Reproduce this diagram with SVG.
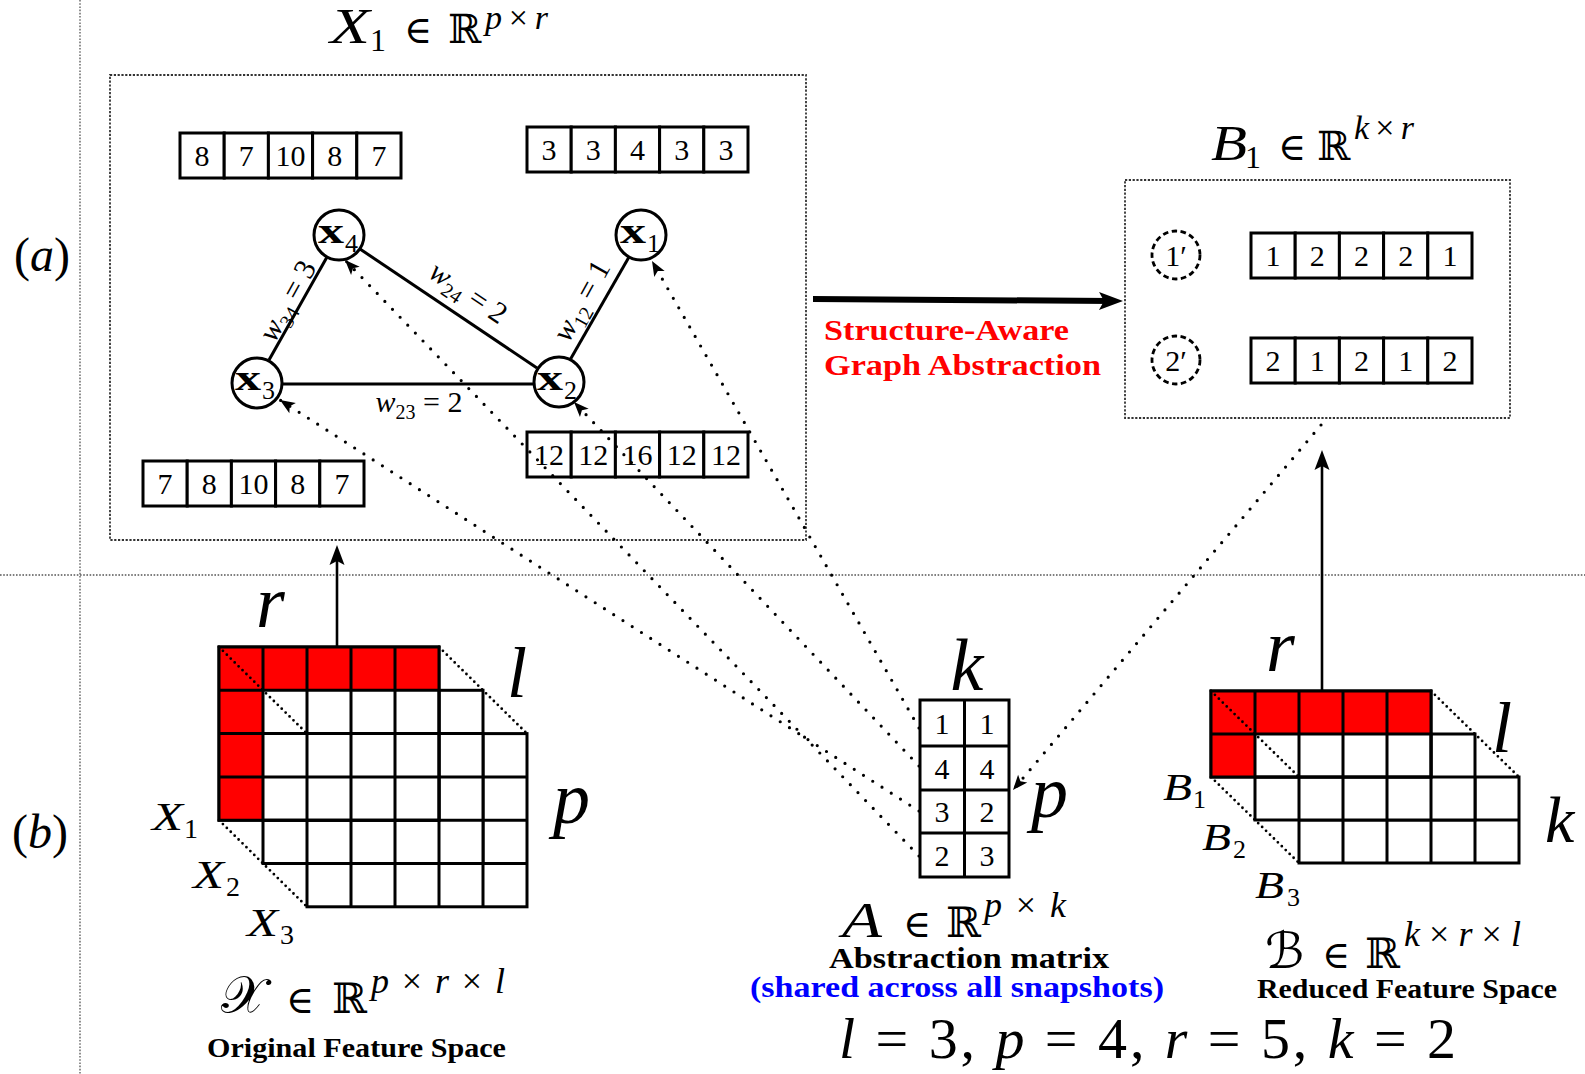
<svg xmlns="http://www.w3.org/2000/svg" width="1585" height="1074" viewBox="0 0 1585 1074">
  <defs>
    <style>
      .sep { fill: none; stroke: #555; stroke-width: 1.3; stroke-dasharray: 1.6 1.6; }
      .frame { fill: none; stroke: #333; stroke-width: 1.8; stroke-dasharray: 2.2 1.6; }
      .cell { fill: #fff; stroke: #000; stroke-width: 3; }
      .grid { fill: none; stroke: #000; stroke-width: 3; }
      .red { fill: #ff0000; }
      .num { font-family: "Liberation Serif", serif; font-size: 30px; text-anchor: middle; fill: #000; }
      .it { font-family: "Liberation Serif", serif; font-style: italic; fill: #000; }
      .rm { font-family: "Liberation Serif", serif; font-style: normal; fill: #000; }
      .sym { font-family: "DejaVu Serif", serif; font-style: normal; fill: #000; }
      .cal { font-family: "DejaVu Serif", "DejaVu Sans", "Noto Sans", serif; font-style: normal; fill: #000; }
      .bf { font-family: "Liberation Serif", serif; font-weight: bold; fill: #000; }
      .nx { font-family: "Liberation Serif", serif; font-weight: bold; font-size: 36px; }
      .nsub { font-family: "Liberation Serif", serif; font-size: 26px; }
      .edge { stroke: #000; stroke-width: 3; fill: none; }
      .node { fill: #fff; stroke: #000; stroke-width: 3; }
      .snode { fill: #fff; stroke: #000; stroke-width: 2.8; stroke-dasharray: 5.5 3.5; }
      .dots { fill: none; stroke: #000; stroke-width: 3.2; stroke-dasharray: 0 11; stroke-linecap: round; }
      .depth { stroke: #000; stroke-width: 2.8; stroke-dasharray: 0 5.5; stroke-linecap: round; }
      .solid { stroke: #000; stroke-width: 2.6; fill: none; }
      .wl { font-family: "Liberation Serif", serif; font-size: 30px; }
    </style>
    <marker id="tipDot" markerUnits="userSpaceOnUse" markerWidth="16" markerHeight="12" refX="15" refY="6" orient="auto" overflow="visible">
      <path d="M0,0 L15,6 L0,12 L3.5,6 Z" fill="#000"/>
    </marker>
    <marker id="tipSolid" markerUnits="userSpaceOnUse" markerWidth="20" markerHeight="15" refX="10" refY="7.5" orient="auto" overflow="visible">
      <path d="M0,0 L20,7.5 L0,15 L4,7.5 Z" fill="#000"/>
    </marker>
    <marker id="tipBig" markerUnits="userSpaceOnUse" markerWidth="24" markerHeight="18" refX="12" refY="9" orient="auto" overflow="visible">
      <path d="M0,0 L24,9 L0,18 L5,9 Z" fill="#000"/>
    </marker>
  </defs>

  <rect x="0" y="0" width="1585" height="1074" fill="#fff"/>

  <!-- panel separators -->
  <g id="separators">
    <line class="sep" x1="80" y1="0" x2="80" y2="1074"/>
    <line class="sep" x1="0" y1="575" x2="1585" y2="575"/>
  </g>

  <!-- panel labels -->
  <g id="panel-labels">
    <text x="42" y="271" font-size="48" text-anchor="middle" class="rm">(<tspan class="it">a</tspan>)</text>
    <text x="40" y="848" font-size="48" text-anchor="middle" class="rm">(<tspan class="it">b</tspan>)</text>
  </g>

  <!-- snapshot X1 title -->
  <g id="title-x1">
    <text class="it" x="330" y="43" font-size="50" textLength="40" lengthAdjust="spacingAndGlyphs">X</text>
    <text class="rm" x="370" y="51" font-size="32">1</text>
    <text class="sym" x="404" y="43" font-size="38">∈</text>
    <text class="sym" x="448" y="43" font-size="40">ℝ</text>
    <text class="it" x="485" y="29" font-size="34" textLength="63" lengthAdjust="spacing">p<tspan class="rm">×</tspan>r</text>
  </g>

  <!-- snapshot X1 frame -->
  <g id="box-x1">
    <rect class="frame" x="110" y="75" width="696" height="465"/>
  </g>

  <!-- graph edges -->
  <g id="graph-edges">
    <line class="edge" x1="327" y1="257" x2="269" y2="360"/>
    <line class="edge" x1="360" y1="249" x2="537" y2="368"/>
    <line class="edge" x1="629" y1="257" x2="570" y2="360"/>
    <line class="edge" x1="282" y1="384" x2="533" y2="384"/>
    <text class="wl" text-anchor="middle" transform="translate(288 301) rotate(-61)" y="9"><tspan font-style="italic">w</tspan><tspan font-size="20" dy="7">34</tspan><tspan dy="-7"> = 3</tspan></text>
    <text class="wl" text-anchor="middle" transform="translate(468 293) rotate(34)" y="9"><tspan font-style="italic">w</tspan><tspan font-size="20" dy="7">24</tspan><tspan dy="-7"> = 2</tspan></text>
    <text class="wl" text-anchor="middle" transform="translate(582 301) rotate(-61)" y="9"><tspan font-style="italic">w</tspan><tspan font-size="20" dy="7">12</tspan><tspan dy="-7"> = 1</tspan></text>
    <text class="wl" text-anchor="middle" x="419" y="412"><tspan font-style="italic">w</tspan><tspan font-size="20" dy="7">23</tspan><tspan dy="-7"> = 2</tspan></text>
  </g>

  <!-- graph nodes -->
  <g id="node-x4">
    <circle class="node" cx="339" cy="235" r="25"/>
    <text class="nx" x="318" y="243" textLength="26" lengthAdjust="spacingAndGlyphs">x</text>
    <text class="nsub" x="345" y="252">4</text>
  </g>
  <g id="node-x1">
    <circle class="node" cx="641" cy="235" r="25"/>
    <text class="nx" x="620" y="243" textLength="26" lengthAdjust="spacingAndGlyphs">x</text>
    <text class="nsub" x="647" y="252">1</text>
  </g>
  <g id="node-x3">
    <circle class="node" cx="257" cy="383" r="25"/>
    <text class="nx" x="235" y="390" textLength="26" lengthAdjust="spacingAndGlyphs">x</text>
    <text class="nsub" x="262" y="399">3</text>
  </g>
  <g id="node-x2">
    <circle class="node" cx="559" cy="382" r="25"/>
    <text class="nx" x="537" y="390" textLength="26" lengthAdjust="spacingAndGlyphs">x</text>
    <text class="nsub" x="564" y="399">2</text>
  </g>

  <!-- node feature vectors -->
  <g id="vec-x4">
    <rect class="cell" x="180" y="133" width="44.2" height="45"/>
    <rect class="cell" x="224.2" y="133" width="44.2" height="45"/>
    <rect class="cell" x="268.4" y="133" width="44.2" height="45"/>
    <rect class="cell" x="312.6" y="133" width="44.2" height="45"/>
    <rect class="cell" x="356.8" y="133" width="44.2" height="45"/>
    <text class="num" y="166"><tspan x="202.1">8</tspan><tspan x="246.3">7</tspan><tspan x="290.5">10</tspan><tspan x="334.7">8</tspan><tspan x="378.9">7</tspan></text>
  </g>
  <g id="vec-x1">
    <rect class="cell" x="527" y="127" width="44.2" height="45"/>
    <rect class="cell" x="571.2" y="127" width="44.2" height="45"/>
    <rect class="cell" x="615.4" y="127" width="44.2" height="45"/>
    <rect class="cell" x="659.6" y="127" width="44.2" height="45"/>
    <rect class="cell" x="703.8" y="127" width="44.2" height="45"/>
    <text class="num" y="160"><tspan x="549.1">3</tspan><tspan x="593.3">3</tspan><tspan x="637.5">4</tspan><tspan x="681.7">3</tspan><tspan x="725.9">3</tspan></text>
  </g>
  <g id="vec-x3">
    <rect class="cell" x="143" y="461" width="44.2" height="45"/>
    <rect class="cell" x="187.2" y="461" width="44.2" height="45"/>
    <rect class="cell" x="231.4" y="461" width="44.2" height="45"/>
    <rect class="cell" x="275.6" y="461" width="44.2" height="45"/>
    <rect class="cell" x="319.8" y="461" width="44.2" height="45"/>
    <text class="num" y="494"><tspan x="165.1">7</tspan><tspan x="209.3">8</tspan><tspan x="253.5">10</tspan><tspan x="297.7">8</tspan><tspan x="341.9">7</tspan></text>
  </g>
  <g id="vec-x2">
    <rect class="cell" x="527" y="432" width="44.2" height="45"/>
    <rect class="cell" x="571.2" y="432" width="44.2" height="45"/>
    <rect class="cell" x="615.4" y="432" width="44.2" height="45"/>
    <rect class="cell" x="659.6" y="432" width="44.2" height="45"/>
    <rect class="cell" x="703.8" y="432" width="44.2" height="45"/>
    <text class="num" y="465"><tspan x="549.1">12</tspan><tspan x="593.3">12</tspan><tspan x="637.5">16</tspan><tspan x="681.7">12</tspan><tspan x="725.9">12</tspan></text>
  </g>

  <!-- abstraction label -->
  <g id="label-abstraction">
    <text class="bf" x="824" y="340" font-size="30" style="fill:#ff0000" textLength="245" lengthAdjust="spacingAndGlyphs">Structure-Aware</text>
    <text class="bf" x="824" y="375" font-size="30" style="fill:#ff0000" textLength="277" lengthAdjust="spacingAndGlyphs">Graph Abstraction</text>
  </g>

  <!-- reduced snapshot B1 title -->
  <g id="title-b1">
    <text class="it" x="1211" y="160" font-size="50" textLength="36" lengthAdjust="spacingAndGlyphs">B</text>
    <text class="rm" x="1245" y="168" font-size="32">1</text>
    <text class="sym" x="1278" y="160" font-size="38">∈</text>
    <text class="sym" x="1317" y="160" font-size="40">ℝ</text>
    <text class="it" x="1354" y="139" font-size="34" textLength="60" lengthAdjust="spacing">k<tspan class="rm">×</tspan>r</text>
  </g>

  <!-- reduced snapshot B1 frame and supernodes -->
  <g id="box-b1">
    <rect class="frame" x="1125" y="180" width="385" height="238"/>
  </g>
  <g id="supernode-1">
    <circle class="snode" cx="1176" cy="255" r="24"/>
    <text class="rm" x="1176" y="266" font-size="30" text-anchor="middle">1′</text>
  </g>
  <g id="supernode-2">
    <circle class="snode" cx="1176" cy="360" r="24"/>
    <text class="rm" x="1176" y="371" font-size="30" text-anchor="middle">2′</text>
  </g>
  <g id="vec-s1">
    <rect class="cell" x="1251" y="233" width="44.2" height="45"/>
    <rect class="cell" x="1295.2" y="233" width="44.2" height="45"/>
    <rect class="cell" x="1339.4" y="233" width="44.2" height="45"/>
    <rect class="cell" x="1383.6" y="233" width="44.2" height="45"/>
    <rect class="cell" x="1427.8" y="233" width="44.2" height="45"/>
    <text class="num" y="266"><tspan x="1273.1">1</tspan><tspan x="1317.3">2</tspan><tspan x="1361.5">2</tspan><tspan x="1405.7">2</tspan><tspan x="1449.9">1</tspan></text>
  </g>
  <g id="vec-s2">
    <rect class="cell" x="1251" y="338" width="44.2" height="45"/>
    <rect class="cell" x="1295.2" y="338" width="44.2" height="45"/>
    <rect class="cell" x="1339.4" y="338" width="44.2" height="45"/>
    <rect class="cell" x="1383.6" y="338" width="44.2" height="45"/>
    <rect class="cell" x="1427.8" y="338" width="44.2" height="45"/>
    <text class="num" y="371"><tspan x="1273.1">2</tspan><tspan x="1317.3">1</tspan><tspan x="1361.5">2</tspan><tspan x="1405.7">1</tspan><tspan x="1449.9">2</tspan></text>
  </g>

  <!-- original feature tensor: slices X3, X2, X1 back to front -->
  <g id="tensor-x">
    <rect class="cell" x="307" y="733.6" width="220" height="173.2"/>
    <path class="grid" d="M351,733.6V906.8M395,733.6V906.8M439,733.6V906.8M483,733.6V906.8M307,776.9H527M307,820.2H527M307,863.5H527"/>
    <rect class="cell" x="263" y="690.3" width="220" height="173.2"/>
    <path class="grid" d="M307,690.3V863.5M351,690.3V863.5M395,690.3V863.5M439,690.3V863.5M263,733.6H483M263,776.9H483M263,820.2H483"/>
    <rect class="cell" x="219" y="647" width="220" height="173.2"/>
    <rect class="red" x="219" y="647" width="220" height="43.3"/>
    <rect class="red" x="219" y="690.3" width="44" height="129.9"/>
    <path class="grid" d="M219,647H439V820.2H219ZM263,647V820.2M307,647V820.2M351,647V820.2M395,647V820.2M219,690.3H439M219,733.6H439M219,776.9H439"/>
    <line class="depth" x1="219" y1="647" x2="307" y2="733.6"/>
    <line class="depth" x1="439" y1="647" x2="527" y2="733.6"/>
    <line class="depth" x1="219" y1="820.2" x2="307" y2="906.8"/>
    <text class="it" x="256" y="627" font-size="74">r</text>
    <text class="it" x="507" y="697" font-size="72">l</text>
    <text class="it" x="553" y="823" font-size="74">p</text>
    <text class="it" x="152" y="830" font-size="40" textLength="31" lengthAdjust="spacingAndGlyphs">X</text>
    <text class="rm" x="184" y="838" font-size="28">1</text>
    <text class="it" x="193" y="888" font-size="40" textLength="31" lengthAdjust="spacingAndGlyphs">X</text>
    <text class="rm" x="226" y="896" font-size="28">2</text>
    <text class="it" x="247" y="936" font-size="40" textLength="31" lengthAdjust="spacingAndGlyphs">X</text>
    <text class="rm" x="280" y="944" font-size="28">3</text>
  </g>

  <g id="caption-x">
    <text class="cal" x="221" y="1013" font-size="52">𝒳</text>
    <text class="sym" x="286" y="1013" font-size="38">∈</text>
    <text class="sym" x="332" y="1013" font-size="42">ℝ</text>
    <text class="it" x="371" y="993" font-size="36" textLength="134" lengthAdjust="spacing">p<tspan class="rm">×</tspan>r<tspan class="rm">×</tspan>l</text>
    <text class="bf" x="207" y="1057" font-size="28" textLength="299" lengthAdjust="spacingAndGlyphs">Original Feature Space</text>
  </g>

  <!-- abstraction matrix A -->
  <g id="matrix-a">
    <rect class="cell" x="920" y="700" width="89" height="177"/>
    <path class="grid" d="M964.5,700V877M920,746H1009M920,790H1009M920,833H1009"/>
    <text class="num" y="733.5"><tspan x="942">1</tspan><tspan x="987">1</tspan></text>
    <text class="num" y="778.5"><tspan x="942">4</tspan><tspan x="987">4</tspan></text>
    <text class="num" y="822"><tspan x="942">3</tspan><tspan x="987">2</tspan></text>
    <text class="num" y="865.5"><tspan x="942">2</tspan><tspan x="987">3</tspan></text>
    <text class="it" x="967" y="690" font-size="74" text-anchor="middle">k</text>
    <text class="it" x="1031" y="817" font-size="74">p</text>
  </g>

  <g id="caption-a">
    <text class="it" x="842" y="937" font-size="50" textLength="40" lengthAdjust="spacingAndGlyphs">A</text>
    <text class="sym" x="903" y="937" font-size="38">∈</text>
    <text class="sym" x="946" y="937" font-size="42">ℝ</text>
    <text class="it" x="984" y="917" font-size="36" textLength="82" lengthAdjust="spacing">p<tspan class="rm">×</tspan>k</text>
    <text class="bf" x="829" y="968" font-size="29" textLength="280" lengthAdjust="spacingAndGlyphs">Abstraction matrix</text>
    <text class="bf" x="750" y="997" font-size="29" style="fill:#0000ff" textLength="414" lengthAdjust="spacingAndGlyphs">(shared across all snapshots)</text>
  </g>

  <!-- reduced feature tensor: slices B3, B2, B1 back to front -->
  <g id="tensor-b">
    <rect class="cell" x="1299" y="777" width="220" height="86"/>
    <path class="grid" d="M1343,777V863M1387,777V863M1431,777V863M1475,777V863M1299,820H1519"/>
    <rect class="cell" x="1255" y="734" width="220" height="86"/>
    <path class="grid" d="M1299,734V820M1343,734V820M1387,734V820M1431,734V820M1255,777H1475"/>
    <rect class="cell" x="1211" y="691" width="220" height="86"/>
    <rect class="red" x="1211" y="691" width="220" height="43"/>
    <rect class="red" x="1211" y="734" width="44" height="43"/>
    <path class="grid" d="M1211,691H1431V777H1211ZM1255,691V777M1299,691V777M1343,691V777M1387,691V777M1211,734H1431"/>
    <line class="depth" x1="1211" y1="691" x2="1299" y2="777"/>
    <line class="depth" x1="1431" y1="691" x2="1519" y2="777"/>
    <line class="depth" x1="1211" y1="777" x2="1299" y2="863"/>
    <text class="it" x="1266" y="671" font-size="74">r</text>
    <text class="it" x="1492" y="752" font-size="72">l</text>
    <text class="it" x="1545" y="842" font-size="66">k</text>
    <text class="it" x="1163" y="800" font-size="38" textLength="29" lengthAdjust="spacingAndGlyphs">B</text>
    <text class="rm" x="1193" y="808" font-size="26">1</text>
    <text class="it" x="1202" y="850" font-size="38" textLength="29" lengthAdjust="spacingAndGlyphs">B</text>
    <text class="rm" x="1233" y="858" font-size="26">2</text>
    <text class="it" x="1255" y="898" font-size="38" textLength="29" lengthAdjust="spacingAndGlyphs">B</text>
    <text class="rm" x="1287" y="906" font-size="26">3</text>
  </g>

  <g id="caption-b">
    <text class="cal" x="1265" y="968" font-size="50">ℬ</text>
    <text class="sym" x="1322" y="968" font-size="38">∈</text>
    <text class="sym" x="1365" y="968" font-size="42">ℝ</text>
    <text class="it" x="1404" y="946" font-size="36" textLength="117" lengthAdjust="spacing">k<tspan class="rm">×</tspan>r<tspan class="rm">×</tspan>l</text>
    <text class="bf" x="1257" y="998" font-size="28" textLength="300" lengthAdjust="spacingAndGlyphs">Reduced Feature Space</text>
  </g>

  <g id="caption-dims">
    <text class="it" x="839" y="1058" font-size="58" textLength="617" lengthAdjust="spacing">l<tspan class="rm"> = 3, </tspan>p<tspan class="rm"> = 4, </tspan>r<tspan class="rm"> = 5, </tspan>k<tspan class="rm"> = 2</tspan></text>
  </g>

  <!-- connectors -->
  <g id="connectors">
    <path class="dots" d="M919,728 L652,261" marker-end="url(#tipDot)"/>
    <path class="dots" d="M919,766 L574,402" marker-end="url(#tipDot)"/>
    <path class="dots" d="M919,811 L280,400" marker-end="url(#tipDot)"/>
    <path class="dots" d="M919,856 L345,260" marker-end="url(#tipDot)"/>
    <path class="dots" d="M1321,425 L1013,790" marker-end="url(#tipDot)"/>
    <line class="solid" x1="337" y1="648" x2="337" y2="555" marker-end="url(#tipSolid)"/>
    <line class="solid" x1="1322" y1="691" x2="1322" y2="460" marker-end="url(#tipSolid)"/>
    <line stroke="#000" stroke-width="6" x1="813" y1="299" x2="1111" y2="301" marker-end="url(#tipBig)"/>
  </g>
</svg>
